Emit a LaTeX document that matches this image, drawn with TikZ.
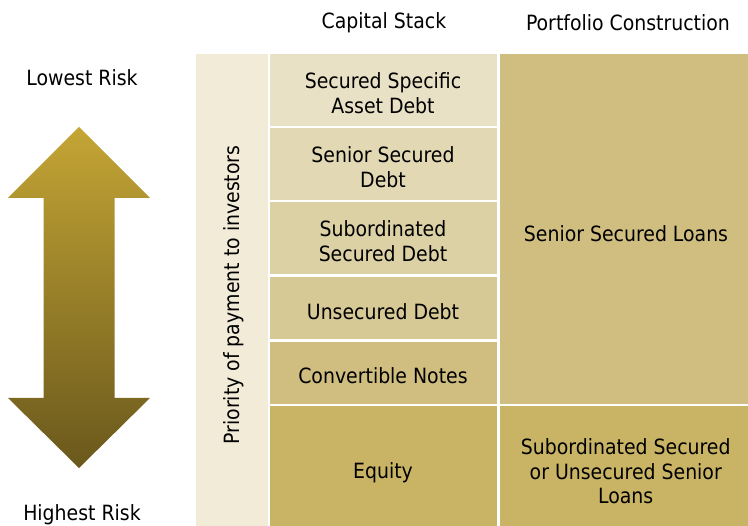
\documentclass[tikz,border=0pt]{standalone}
\usepackage{fontspec}
\setmainfont{DejaVu Sans Condensed}
\definecolor{prioc}{HTML}{F1EBD8}
\definecolor{cA}{HTML}{E9E1C5}
\definecolor{cB}{HTML}{E2D8B4}
\definecolor{cC}{HTML}{DCD0A5}
\definecolor{cD}{HTML}{D6C996}
\definecolor{cE}{HTML}{CFBE7F}
\definecolor{cF}{HTML}{C8B464}
\definecolor{arrtop}{HTML}{C4A535}
\definecolor{arrbot}{HTML}{6A581C}
\tikzset{
  txt/.style={font=\fontsize{21}{24.7}\selectfont, text=black, align=center},
  cell/.style={rectangle, inner sep=0pt, minimum width=#1},
  hdr/.style={txt}
}
\begin{document}
\begin{tikzpicture}[x=1pt,y=-1pt]
\useasboundingbox (0,0) rectangle (748,526);
\fill[white] (0,0) rectangle (748,526);
% arrow
\shade[top color=arrtop, bottom color=arrbot]
  (79,127) -- (150,198) -- (114.5,198) -- (114.5,398) -- (150,398) -- (79,468)
  -- (8,398) -- (43.5,398) -- (43.5,198) -- (8,198) -- cycle;
% headers
\node[hdr] (hcap) at (384,23) {Capital Stack};
\node[hdr] (hport) at (628,23) {Portfolio Construction};
\node[hdr] (low) at (82,78) {Lowest Risk};
\node[hdr] (high) at (82,515) {Highest Risk};
% priority column
\node[cell=72pt, minimum height=471.5pt, fill=prioc] (prio) at (231.5,290.25) {};
\node[txt, rotate=90] (priot) at (234,295) {Priority of payment to investors};
% capital stack
\node[cell=227pt, minimum height=71.5pt, fill=cA] (c1) at (383,90.25) {};
\node[cell=227pt, minimum height=71.5pt, fill=cB] (c2) at (383,164.25) {};
\node[cell=227pt, minimum height=72pt, fill=cC] (c3) at (383,238.5) {};
\node[cell=227pt, minimum height=62.5pt, fill=cD] (c4) at (383,308.25) {};
\node[cell=227pt, minimum height=62pt, fill=cE] (c5) at (383,373) {};
\node[cell=227pt, minimum height=119.5pt, fill=cF] (c6) at (383,466.25) {};
\node[txt] (c1t) at ([yshift=-3pt]c1.center) {Secured Specific\\Asset Debt};
\node[txt] (c2t) at ([yshift=-3pt]c2.center) {Senior Secured\\Debt};
\node[txt] (c3t) at ([yshift=-3pt]c3.center) {Subordinated\\Secured Debt};
\node[txt] (c4t) at ([yshift=-3pt]c4.center) {Unsecured Debt};
\node[txt] (c5t) at ([yshift=-3pt]c5.center) {Convertible Notes};
\node[txt] (c6t) at ([yshift=-6pt]c6.center) {Equity};
% portfolio construction
\node[cell=248.5pt, minimum height=349.5pt, fill=cE] (r1) at (623.75,229.25) {};
\node[cell=248.5pt, minimum height=119.5pt, fill=cF] (r2) at (623.75,466.25) {};
\node[txt] (r1t) at (626,234) {Senior Secured Loans};
\node[txt] (r2t) at ([xshift=2pt,yshift=-5pt]r2.center) {Subordinated Secured\\or Unsecured Senior\\Loans};
\end{tikzpicture}
\end{document}
